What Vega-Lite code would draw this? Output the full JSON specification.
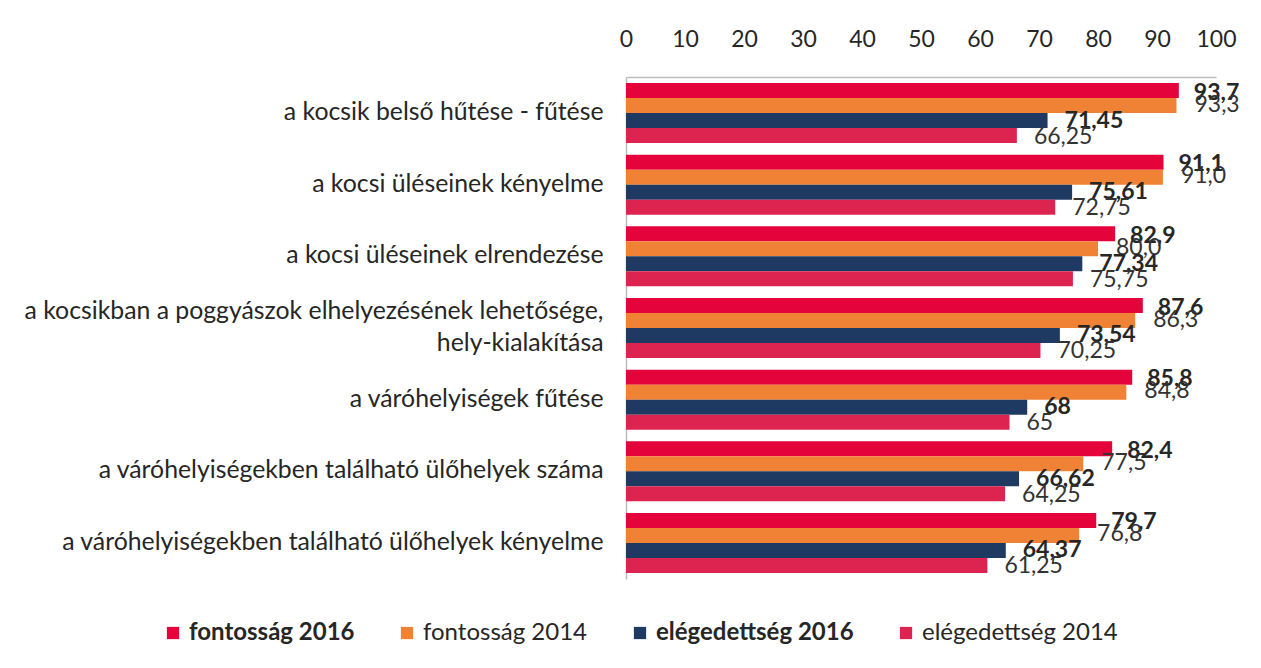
{
  "$schema": "https://vega.github.io/schema/vega-lite/v6.json",
  "width": 590,
  "height": 502,
  "autosize": {"type": "none"},
  "padding": {"left": 626, "top": 77, "right": 45, "bottom": 89},
  "background": "white",
  "config": {"view": {"stroke": null}, "font": "Lato"},
  "data": {"values": [
    {"cat": "a kocsik belső hűtése - fűtése", "series": "fontosság 2016", "value": 93.7, "label": "93,7"},
    {"cat": "a kocsik belső hűtése - fűtése", "series": "fontosság 2014", "value": 93.3, "label": "93,3"},
    {"cat": "a kocsik belső hűtése - fűtése", "series": "elégedettség 2016", "value": 71.45, "label": "71,45"},
    {"cat": "a kocsik belső hűtése - fűtése", "series": "elégedettség 2014", "value": 66.25, "label": "66,25"},
    {"cat": "a kocsi üléseinek kényelme", "series": "fontosság 2016", "value": 91.1, "label": "91,1"},
    {"cat": "a kocsi üléseinek kényelme", "series": "fontosság 2014", "value": 91.0, "label": "91,0"},
    {"cat": "a kocsi üléseinek kényelme", "series": "elégedettség 2016", "value": 75.61, "label": "75,61"},
    {"cat": "a kocsi üléseinek kényelme", "series": "elégedettség 2014", "value": 72.75, "label": "72,75"},
    {"cat": "a kocsi üléseinek elrendezése", "series": "fontosság 2016", "value": 82.9, "label": "82,9"},
    {"cat": "a kocsi üléseinek elrendezése", "series": "fontosság 2014", "value": 80.0, "label": "80,0"},
    {"cat": "a kocsi üléseinek elrendezése", "series": "elégedettség 2016", "value": 77.34, "label": "77,34"},
    {"cat": "a kocsi üléseinek elrendezése", "series": "elégedettség 2014", "value": 75.75, "label": "75,75"},
    {"cat": "a kocsikban a poggyászok elhelyezésének lehetősége,|hely-kialakítása", "series": "fontosság 2016", "value": 87.6, "label": "87,6"},
    {"cat": "a kocsikban a poggyászok elhelyezésének lehetősége,|hely-kialakítása", "series": "fontosság 2014", "value": 86.3, "label": "86,3"},
    {"cat": "a kocsikban a poggyászok elhelyezésének lehetősége,|hely-kialakítása", "series": "elégedettség 2016", "value": 73.54, "label": "73,54"},
    {"cat": "a kocsikban a poggyászok elhelyezésének lehetősége,|hely-kialakítása", "series": "elégedettség 2014", "value": 70.25, "label": "70,25"},
    {"cat": "a váróhelyiségek fűtése", "series": "fontosság 2016", "value": 85.8, "label": "85,8"},
    {"cat": "a váróhelyiségek fűtése", "series": "fontosság 2014", "value": 84.8, "label": "84,8"},
    {"cat": "a váróhelyiségek fűtése", "series": "elégedettség 2016", "value": 68, "label": "68"},
    {"cat": "a váróhelyiségek fűtése", "series": "elégedettség 2014", "value": 65, "label": "65"},
    {"cat": "a váróhelyiségekben található ülőhelyek száma", "series": "fontosság 2016", "value": 82.4, "label": "82,4"},
    {"cat": "a váróhelyiségekben található ülőhelyek száma", "series": "fontosság 2014", "value": 77.5, "label": "77,5"},
    {"cat": "a váróhelyiségekben található ülőhelyek száma", "series": "elégedettség 2016", "value": 66.62, "label": "66,62"},
    {"cat": "a váróhelyiségekben található ülőhelyek száma", "series": "elégedettség 2014", "value": 64.25, "label": "64,25"},
    {"cat": "a váróhelyiségekben található ülőhelyek kényelme", "series": "fontosság 2016", "value": 79.7, "label": "79,7"},
    {"cat": "a váróhelyiségekben található ülőhelyek kényelme", "series": "fontosság 2014", "value": 76.8, "label": "76,8"},
    {"cat": "a váróhelyiségekben található ülőhelyek kényelme", "series": "elégedettség 2016", "value": 64.37, "label": "64,37"},
    {"cat": "a váróhelyiségekben található ülőhelyek kényelme", "series": "elégedettség 2014", "value": 61.25, "label": "61,25"}
  ]},
  "encoding": {
    "y": {
      "field": "cat", "type": "nominal", "sort": null,
      "scale": {"paddingInner": 0.163, "paddingOuter": 0.084},
      "axis": {
        "title": null, "ticks": false, "domain": true, "domainColor": "#BDBDBD", "domainWidth": 1.5,
        "labelFontSize": 24.8, "labelPadding": 23, "labelLimit": 700, "labelColor": "#262626",
        "labelLineHeight": 32, "labelExpr": "split(datum.label, '|')",
        "labelOffset": {"condition": {"test": "indexof(datum.value, '|') >= 0", "value": -16}, "value": 0}
      }
    },
    "yOffset": {
      "field": "series", "type": "nominal",
      "sort": ["fontosság 2016", "fontosság 2014", "elégedettség 2016", "elégedettség 2014"],
      "scale": {"paddingInner": 0, "paddingOuter": 0}
    },
    "x": {
      "field": "value", "type": "quantitative",
      "scale": {"domain": [0, 100], "nice": false},
      "axis": {
        "orient": "top", "title": null, "grid": false, "ticks": false, "labelFlush": false,
        "values": [0, 10, 20, 30, 40, 50, 60, 70, 80, 90, 100],
        "domain": true, "domainColor": "#BDBDBD", "domainWidth": 1.5,
        "labelFontSize": 23, "labelPadding": 26, "labelColor": "#262626"
      }
    }
  },
  "layer": [
    {
      "mark": {"type": "bar"},
      "encoding": {
        "color": {
          "field": "series", "type": "nominal",
          "scale": {
            "domain": ["fontosság 2016", "fontosság 2014", "elégedettség 2016", "elégedettség 2014"],
            "range": ["#E4033B", "#F08236", "#1E3A62", "#DD2451"]
          },
          "legend": {
            "title": null, "orient": "none", "direction": "horizontal", "columns": 4,
            "legendX": -465, "legendY": 544, "columnPadding": 40,
            "symbolType": "square", "symbolSize": 150, "symbolStrokeWidth": 0,
            "labelFontSize": 24, "labelColor": "#262626", "labelOffset": 4, "labelLimit": 400,
            "encode": {"labels": {"update": {"fontWeight": {"signal": "indexof(datum.value, '2016') >= 0 ? 'bold' : 'normal'"}}}}
          }
        }
      }
    },
    {
      "transform": [{"filter": "datum.series == 'fontosság 2016'"}],
      "mark": {"type": "text", "align": "left", "baseline": "middle", "dx": 15, "dy": 2, "fontSize": 23, "fontWeight": "bold", "color": "#262626"},
      "encoding": {"text": {"field": "label"}}
    },
    {
      "transform": [{"filter": "datum.series == 'fontosság 2014'"}],
      "mark": {"type": "text", "align": "left", "baseline": "middle", "dx": 18, "dy": -1, "fontSize": 23, "color": "#333333"},
      "encoding": {"text": {"field": "label"}}
    },
    {
      "transform": [{"filter": "datum.series == 'elégedettség 2016'"}],
      "mark": {"type": "text", "align": "left", "baseline": "middle", "dx": 17, "dy": 0, "fontSize": 23, "fontWeight": "bold", "color": "#262626"},
      "encoding": {"text": {"field": "label"}}
    },
    {
      "transform": [{"filter": "datum.series == 'elégedettség 2014'"}],
      "mark": {"type": "text", "align": "left", "baseline": "middle", "dx": 17, "dy": 1, "fontSize": 23, "color": "#333333"},
      "encoding": {"text": {"field": "label"}}
    }
  ]
}
